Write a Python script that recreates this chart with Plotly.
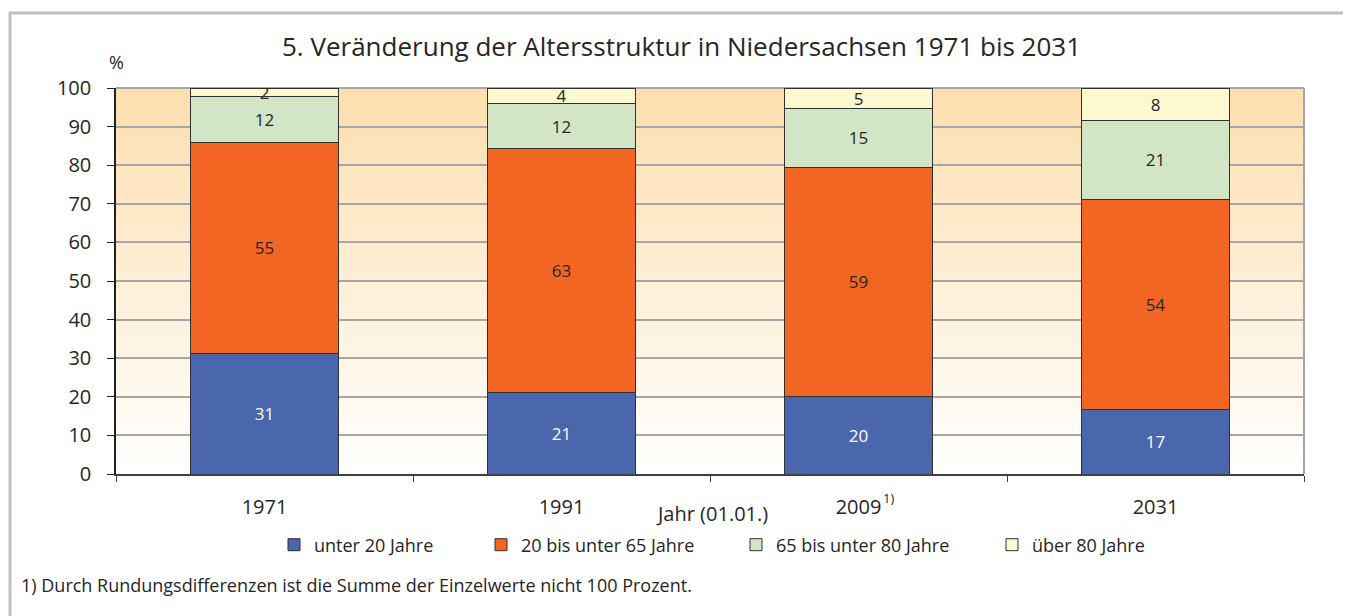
import plotly.graph_objects as go

# ---------------- data ----------------
years = ["1971", "1991", "2009", "2031"]
series_names = ["unter 20 Jahre", "20 bis unter 65 Jahre",
                "65 bis unter 80 Jahre", "über 80 Jahre"]
unter20 = [31.1, 21.0, 20.2, 16.6]
bis65 = [54.9, 63.2, 59.1, 54.4]
bis80 = [11.9, 11.7, 15.5, 20.7]
ueber80 = [2.1, 4.1, 5.2, 8.3]
lab_unter20 = ["31", "21", "20", "17"]
lab_bis65 = ["55", "63", "59", "54"]
lab_bis80 = ["12", "12", "15", "21"]
lab_ueber80 = ["2", "4", "5", "8"]
y_ticks = [0, 10, 20, 30, 40, 50, 60, 70, 80, 90, 100]

title_text = "5. Veränderung der Altersstruktur in Niedersachsen 1971 bis 2031"
x_title = "Jahr (01.01.)"
footnote = "1) Durch Rundungsdifferenzen ist die Summe der Einzelwerte nicht 100 Prozent."

# ---------------- style ----------------
OFF = 8  # page body margin
W, H = 1351 - OFF, 616 - OFF
L = 116 - OFF
T = 88 - OFF
B = H - (474 - OFF)
R = W - (1304 - OFF)
PW, PH = W - L - R, H - T - B
FONT = "Open Sans"
TXT = "#262626"
colors = ["#4A66AC", "#F26522", "#D2E6C6", "#FCF8CF"]
text_colors = ["white", TXT, TXT, TXT]


def px_x(p):
    return (p - OFF - L) / PW


def px_y(p):
    return (H - B - (p - OFF)) / PH


values = [unter20, bis65, bis80, ueber80]
labels = [lab_unter20, lab_bis65, lab_bis80, lab_ueber80]
legend_ids = ["legend", "legend2", "legend3", "legend4"]

fig = go.Figure()
for name, vals, labs, col, tcol, lg in zip(series_names, values, labels,
                                           colors, text_colors, legend_ids):
    fig.add_trace(go.Bar(
        x=years, y=vals, name=name, text=labs,
        textposition="inside", insidetextanchor="middle",
        constraintext="none", textangle=0,
        textfont=dict(family=FONT, size=17, color=tcol),
        marker=dict(color=col, line=dict(color="#303030", width=1)),
        legend=lg, hoverinfo="skip",
    ))

# gradient background of plot area
shapes = []
top_c = (253, 222, 174)
for i in range(100):
    t = (i + 0.5) / 100.0
    c = tuple(int(round(255 + (tc - 255) * t)) for tc in top_c)
    shapes.append(dict(type="rect", xref="paper", yref="y", x0=0, x1=1,
                       y0=i, y1=min(i + 1.3, 100), layer="below",
                       line=dict(width=0),
                       fillcolor="rgb(%d,%d,%d)" % c))
# plot border (top/right) in gray
shapes.append(dict(type="line", xref="paper", yref="paper", x0=0, x1=1,
                   y0=1, y1=1, line=dict(color="#A6A6A6", width=2), layer="below"))
shapes.append(dict(type="line", xref="paper", yref="paper", x0=1, x1=1,
                   y0=0, y1=1, line=dict(color="#A6A6A6", width=2), layer="below"))
# outer frame
shapes.append(dict(type="rect", xref="paper", yref="paper",
                   x0=px_x(10), x1=px_x(1370), y0=px_y(13), y1=px_y(640),
                   line=dict(color="#C0C0C0", width=3), fillcolor="rgba(0,0,0,0)",
                   layer="below"))

annotations = [
    dict(text=title_text, xref="paper", yref="paper", x=px_x(681), y=px_y(46),
         showarrow=False, xanchor="center", yanchor="middle",
         font=dict(family=FONT, size=26, color=TXT)),
    dict(text="%", xref="paper", yref="paper", x=px_x(116), y=px_y(62),
         showarrow=False, xanchor="center", yanchor="middle",
         font=dict(family=FONT, size=18, color=TXT)),
    dict(text=x_title, xref="paper", yref="paper", x=px_x(712), y=px_y(514),
         showarrow=False, xanchor="center", yanchor="middle",
         font=dict(family=FONT, size=20, color=TXT)),
    dict(text="1)", xref="paper", yref="paper", x=px_x(881), y=px_y(498),
         showarrow=False, xanchor="left", yanchor="middle",
         font=dict(family=FONT, size=13, color=TXT)),
    dict(text=footnote, xref="paper", yref="paper", x=px_x(19), y=px_y(585),
         showarrow=False, xanchor="left", yanchor="middle",
         font=dict(family=FONT, size=18, color=TXT)),
]

legend_sq_px = [290, 497, 752, 1008]
legend_layout = {}
for lg, sq in zip(legend_ids, legend_sq_px):
    legend_layout[lg] = dict(
        x=px_x(sq - 16), y=px_y(545), xanchor="left", yanchor="middle",
        orientation="h", bgcolor="rgba(0,0,0,0)", borderwidth=0,
        font=dict(family=FONT, size=18, color=TXT),
        itemclick=False, itemdoubleclick=False,
    )

fig.update_layout(
    width=W, height=H,
    margin=dict(l=L, r=R, t=T, b=B, autoexpand=False),
    paper_bgcolor="white", plot_bgcolor="white",
    barmode="stack", bargap=0.5,
    showlegend=True,
    font=dict(family=FONT, color=TXT),
    shapes=shapes, annotations=annotations,
    **legend_layout,
)
fig.update_xaxes(
    type="category", tickson="boundaries",
    showgrid=False, showline=True, linecolor="#404040", linewidth=1.5,
    ticks="outside", ticklen=6, tickcolor="#404040", tickwidth=1,
    ticklabelstandoff=14,
    tickfont=dict(family=FONT, size=20, color=TXT),
)
fig.update_yaxes(
    range=[0, 100], tickvals=y_ticks,
    showgrid=True, gridcolor="#A6A6A6", gridwidth=2,
    showline=True, linecolor="#202020", linewidth=1.5,
    ticks="outside", ticklen=7, tickcolor="#202020",
    ticklabelstandoff=12,
    zeroline=False,
    tickfont=dict(family=FONT, size=20, color=TXT),
)

fig.write_html("out.html")
